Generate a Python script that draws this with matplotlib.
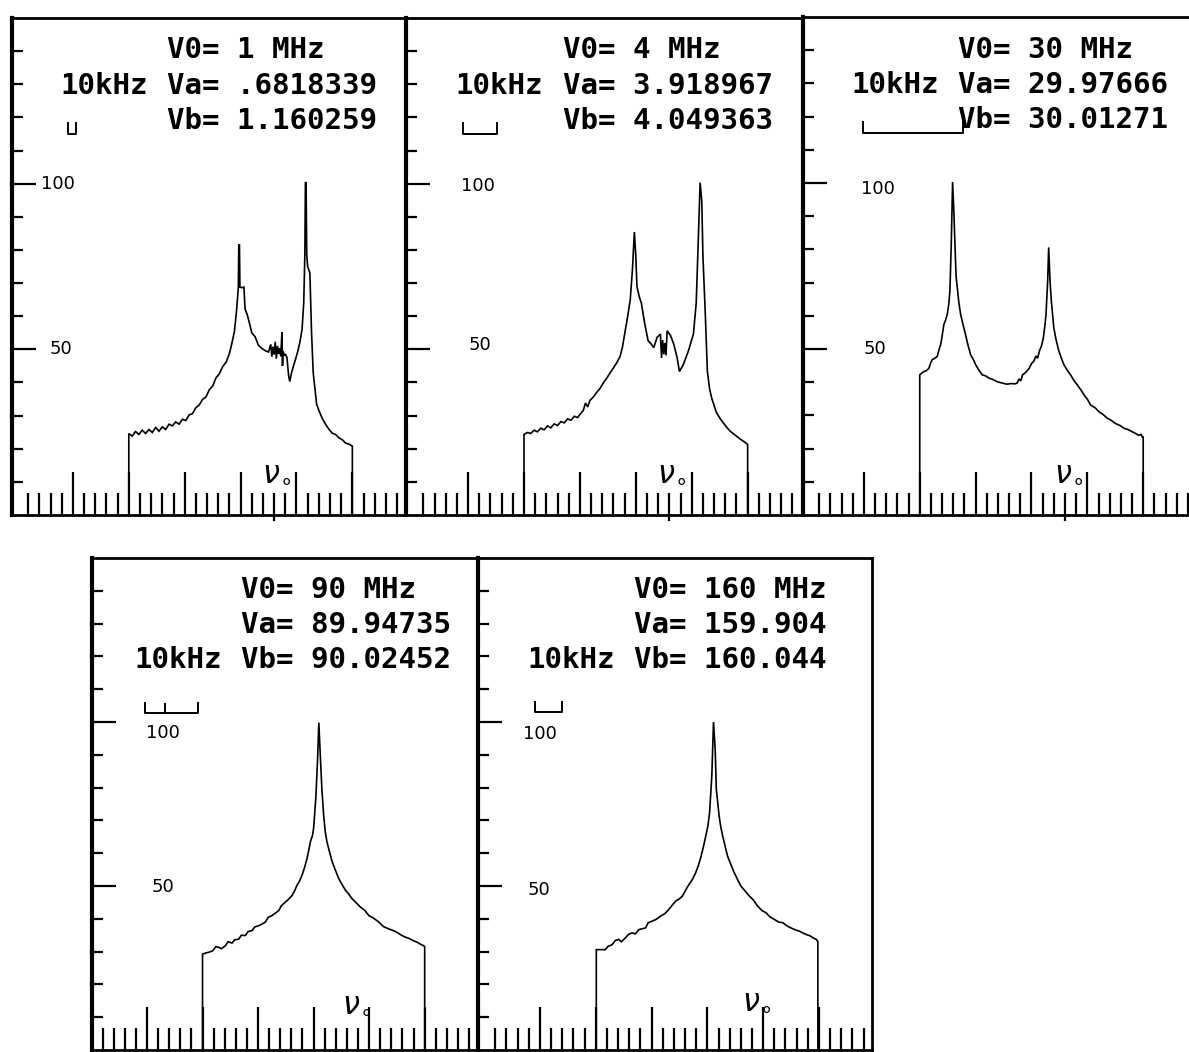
import matplotlib
matplotlib.use("Agg")
import matplotlib.pyplot as plt

# ---------------------------------------------------------------------------
# Spectra: (frequency step index, relative intensity) for each drive frequency
# ---------------------------------------------------------------------------
spec_1mhz = [
    (10.0, 0), (10.0, 24.6), (10.3, 23.8), (10.6, 25.2), (10.9, 24.3), (11.2, 25.6),
    (11.5, 24.6), (11.8, 25.8), (12.1, 24.9), (12.4, 26.4), (12.7, 25.3), (13.0, 26.6),
    (13.3, 25.8), (13.6, 27.4), (13.9, 26.9), (14.2, 28.1), (14.5, 27.4), (14.8, 28.9),
    (15.1, 28.5), (15.4, 30.2), (15.7, 30.6), (16.0, 32.4), (16.3, 33.2), (16.6, 34.9),
    (16.9, 35.6), (17.2, 37.8), (17.5, 38.9), (17.8, 41.4), (18.1, 42.6), (18.4, 44.8),
    (18.7, 46.1), (19.0, 48.7), (19.2, 51.5), (19.45, 55.4), (19.65, 62.0), (19.8, 68.8),
    (19.84, 81.5), (19.9, 81.5), (19.94, 68.8), (20.1, 68.6), (20.3, 68.8), (20.4, 62.2),
    (20.6, 60.4), (20.8, 57.8), (21.0, 55.0), (21.3, 53.8), (21.6, 51.2), (21.9, 50.3),
    (22.2, 49.6), (22.5, 49.2), (22.7, 51.5), (22.8, 47.8), (22.9, 50.8), (23.0, 48.4),
    (23.1, 52.3), (23.2, 47.2), (23.3, 51.0), (23.4, 48.6), (23.5, 50.4), (23.6, 47.9),
    (23.7, 55.2), (23.75, 45.0), (23.8, 49.5), (23.9, 48.1), (24.0, 48.6), (24.15, 47.5),
    (24.3, 42.0), (24.4, 40.3), (24.55, 42.8), (24.7, 44.6), (24.9, 46.8), (25.1, 49.2),
    (25.3, 52.0), (25.5, 56.0), (25.65, 64.0), (25.75, 78.5), (25.8, 100.3), (25.86, 100.3),
    (25.92, 78.5), (26.0, 75.0), (26.2, 73.0), (26.35, 55.0), (26.5, 42.9), (26.8, 33.5),
    (27.0, 31.6), (27.3, 29.2), (27.6, 27.4), (27.9, 25.9), (28.2, 24.7), (28.5, 24.3),
    (28.8, 23.3), (29.1, 22.7), (29.4, 21.7), (29.7, 21.4), (29.95, 20.9), (30.0, 20.8),
    (30.0, 0),
]

spec_4mhz = [
    (10.0, 0), (10.0, 24.3), (10.3, 24.9), (10.6, 24.6), (10.9, 25.6), (11.2, 25.1),
    (11.5, 26.2), (11.8, 25.7), (12.1, 26.9), (12.4, 26.3), (12.7, 27.5), (13.0, 27.0),
    (13.3, 28.2), (13.6, 27.8), (13.9, 29.0), (14.2, 28.6), (14.5, 29.8), (14.8, 29.4),
    (15.1, 30.8), (15.3, 31.5), (15.5, 33.8), (15.7, 32.6), (15.9, 34.6), (16.2, 35.6),
    (16.5, 37.0), (16.8, 38.2), (17.1, 39.9), (17.4, 41.3), (17.7, 42.9), (18.0, 44.4),
    (18.3, 46.0), (18.6, 47.9), (18.8, 50.6), (19.0, 54.6), (19.25, 59.5), (19.5, 64.9),
    (19.7, 74.1), (19.87, 85.4), (20.0, 78.2), (20.1, 69.0), (20.3, 66.0), (20.5, 63.9),
    (20.8, 57.7), (21.1, 52.6), (21.4, 51.5), (21.6, 50.5), (21.9, 53.6), (22.2, 54.6),
    (22.3, 47.4), (22.4, 52.8), (22.5, 48.5), (22.6, 51.9), (22.7, 48.2), (22.8, 55.6),
    (23.1, 54.2), (23.4, 51.5), (23.7, 47.4), (23.9, 43.3), (24.25, 45.4), (24.7, 49.5),
    (25.15, 54.6), (25.4, 63.9), (25.6, 84.4), (25.75, 100.3), (25.9, 94.7), (26.0, 78.2),
    (26.2, 61.8), (26.4, 43.3), (26.6, 38.0), (26.8, 35.1), (27.2, 31.0), (27.5, 29.3),
    (27.8, 27.9), (28.1, 26.6), (28.4, 25.4), (28.7, 24.6), (29.0, 23.8), (29.3, 23.0),
    (29.6, 22.3), (29.9, 21.6), (30.0, 21.3), (30.0, 0),
]

spec_30mhz = [
    (10.0, 0), (10.0, 42.2), (10.2, 42.8), (10.37, 43.2), (10.6, 43.5), (10.82, 44.2),
    (11.0, 46.0), (11.12, 46.8), (11.35, 47.2), (11.57, 47.8), (11.7, 49.5), (11.87, 51.3),
    (12.0, 53.8), (12.16, 57.4), (12.3, 58.6), (12.46, 60.4), (12.6, 63.5), (12.7, 67.5),
    (12.82, 81.6), (12.94, 100.3), (13.06, 90.7), (13.15, 81.6), (13.25, 72.0), (13.36, 68.5),
    (13.5, 64.0), (13.66, 60.4), (13.9, 57.0), (14.1, 54.3), (14.3, 51.4), (14.55, 48.3),
    (14.8, 46.8), (15.0, 45.3), (15.3, 43.6), (15.6, 42.2), (15.9, 41.9), (16.2, 41.2),
    (16.5, 40.9), (16.9, 40.2), (17.3, 39.8), (17.8, 39.4), (18.2, 39.6), (18.5, 39.5),
    (18.7, 39.7), (18.9, 41.0), (19.05, 40.4), (19.2, 42.2), (19.5, 43.0), (19.8, 44.2),
    (20.0, 45.6), (20.2, 46.3), (20.4, 47.9), (20.55, 47.2), (20.7, 49.3), (20.9, 51.0),
    (21.06, 53.3), (21.2, 57.0), (21.3, 60.4), (21.45, 70.5), (21.54, 80.6), (21.66, 70.5),
    (21.78, 64.4), (22.0, 56.4), (22.2, 52.8), (22.46, 49.3), (22.7, 47.0), (22.9, 45.3),
    (23.2, 43.6), (23.5, 42.2), (23.8, 40.5), (24.1, 39.2), (24.4, 37.8), (24.7, 36.2),
    (25.0, 34.9), (25.3, 33.1), (25.7, 32.3), (26.04, 31.1), (26.4, 30.3), (26.8, 29.1),
    (27.1, 28.6), (27.5, 27.6), (27.9, 27.0), (28.3, 26.1), (28.6, 25.8), (29.0, 25.1),
    (29.3, 24.6), (29.6, 24.0), (29.8, 24.3), (29.93, 23.5), (30.0, 23.5), (30.0, 0),
]

spec_90mhz = [
    (10.0, 0), (10.0, 29.2), (10.3, 29.6), (10.56, 29.8), (10.9, 30.2), (11.2, 31.5),
    (11.46, 31.3), (11.7, 30.9), (12.06, 31.8), (12.3, 33.0), (12.66, 32.6), (12.9, 33.6),
    (13.26, 33.8), (13.5, 35.0), (13.86, 34.9), (14.1, 36.1), (14.46, 36.4), (14.7, 37.5),
    (15.06, 37.9), (15.3, 38.3), (15.66, 39.0), (15.9, 40.4), (16.26, 41.0), (16.5, 41.6),
    (16.86, 42.5), (17.1, 44.0), (17.46, 45.1), (17.7, 45.8), (18.06, 47.1), (18.3, 48.6),
    (18.5, 50.2), (18.75, 51.6), (18.96, 53.3), (19.2, 55.8), (19.41, 58.4), (19.6, 61.5),
    (19.71, 63.5), (19.9, 65.4), (20.0, 67.6), (20.2, 76.8), (20.35, 88.0), (20.47, 99.8),
    (20.6, 90.0), (20.74, 79.9), (20.9, 71.7), (21.05, 66.5), (21.2, 63.5), (21.4, 60.8),
    (21.67, 57.4), (21.95, 54.9), (22.27, 52.2), (22.55, 50.5), (22.87, 48.7), (23.15, 47.6),
    (23.47, 46.1), (23.8, 45.0), (24.2, 43.6), (24.6, 42.6), (24.97, 41.0), (25.4, 40.2),
    (25.87, 39.0), (26.3, 37.6), (26.77, 36.9), (27.1, 36.5), (27.5, 35.9), (27.9, 35.0),
    (28.27, 34.4), (28.6, 34.0), (29.0, 33.3), (29.3, 32.9), (29.6, 32.3), (29.9, 31.8),
    (30.0, 31.5), (30.0, 0),
]

spec_160mhz = [
    (10.05, 0), (10.05, 30.6), (10.86, 30.6), (11.1, 31.6), (11.46, 32.1), (11.75, 33.4),
    (12.06, 33.7), (12.3, 33.0), (12.66, 34.2), (12.95, 35.3), (13.26, 35.7), (13.55, 35.4),
    (13.86, 36.7), (14.2, 37.0), (14.46, 37.2), (14.7, 38.8), (15.06, 39.3), (15.4, 39.8),
    (15.8, 40.8), (16.2, 41.6), (16.56, 42.9), (16.86, 44.2), (17.16, 45.4), (17.46, 46.0),
    (17.76, 46.9), (18.06, 48.8), (18.36, 50.5), (18.66, 52.0), (18.96, 54.1), (19.2, 56.3),
    (19.41, 58.7), (19.65, 62.0), (19.86, 65.3), (20.05, 68.4), (20.2, 72.4), (20.4, 83.7),
    (20.55, 100.0), (20.7, 91.8), (20.8, 79.6), (21.05, 71.4), (21.2, 68.0), (21.37, 65.3),
    (21.6, 62.0), (21.8, 59.2), (22.1, 56.6), (22.4, 54.1), (22.7, 52.0), (23.0, 50.0),
    (23.4, 48.4), (23.77, 46.9), (24.1, 45.8), (24.5, 43.9), (24.9, 42.5), (25.27, 41.8),
    (25.6, 40.6), (26.0, 39.8), (26.4, 39.0), (26.77, 38.8), (27.1, 37.9), (27.5, 37.2),
    (27.9, 36.6), (28.27, 36.2), (28.6, 35.6), (28.87, 35.2), (29.2, 34.8), (29.47, 34.2),
    (29.77, 33.7), (29.9, 33.0), (29.9, 0),
]

# Header readouts: centre frequency and fitted peak positions
v0_labels = ["V0= 1 MHz", "V0= 4 MHz", "V0= 30 MHz", "V0= 90 MHz", "V0= 160 MHz"]
va_labels = ["Va= .6818339", "Va= 3.918967", "Va= 29.97666", "Va= 89.94735", "Va= 159.904"]
vb_labels = ["Vb= 1.160259", "Vb= 4.049363", "Vb= 30.01271", "Vb= 90.02452", "Vb= 160.044"]
scale_text = "10kHz"
scale_line = [1, 1, 1, 2, 2]            # header line that carries the 10 kHz tag

# 10 kHz scale bar in step units: start, end, inner ticks
scale_bar_start = [4.55, 4.55, 4.9, 4.8, 4.6]
scale_bar_end = [5.3, 7.55, 13.9, 9.6, 7.0]
scale_bar_inner = [[], [], [], [6.6], []]
scale_bar_base = [115.0, 115.0, 115.2, 102.7, 103.0]

y_minor_ticks = [10, 20, 30, 40, 60, 70, 80, 90, 110, 120, 130, 140]
y_major_ticks = [50, 100]
y_label_values = [100, 50]
x_major_ticks = [5, 10, 15, 20, 25, 30]
x_minor_ticks = [k for k in range(1, 35) if k % 5]

# Where the "100"/"50" annotations sit (x in step units, y in intensity)
y100_label_pos = [(2.1, 100.0), (4.4, 99.2), (4.7, 98.3), (4.95, 96.6), (3.5, 96.3)]
y50_label_pos = [(2.9, 50.0), (5.0, 51.4), (5.0, 50.0), (5.4, 49.7), (3.9, 48.8)]
nu0_label_pos = [(23.2, 12.9), (23.2, 12.9), (23.3, 12.9), (23.9, 14.3), (24.4, 15.0)]
nu0_tick = [23, 23, 23, None, None]

spectra = [spec_1mhz, spec_4mhz, spec_30mhz, spec_90mhz, spec_160mhz]

# ---------------------------------------------------------------------------
# Layout: frame boxes in pixels (left, right, top, bottom) and x-limits
# ---------------------------------------------------------------------------
W, H = 1189, 1052
frames = [
    (12, 406, 18, 515, -0.45, 34.8),
    (406, 803, 18, 515, -0.55, 34.95),
    (803, 1189, 17, 515, -0.45, 34.1),
    (92, 478, 558, 1050, 0.05, 34.8),
    (478, 872, 558, 1050, -0.55, 34.75),
]
right_spine = [True, True, False, True, True]

fig = plt.figure(figsize=(W / 100, H / 100), dpi=100)
fig.patch.set_facecolor("white")

mono = dict(family=["DejaVu Sans Mono"], weight="bold", fontsize=21, color="black")
head_y = [137.8, 127.2, 116.6]
col_v = 13.45
col_tag = 3.9

for i, spec in enumerate(spectra):
    l, r, t, b, x0, x1 = frames[i]
    ax = fig.add_axes([l / W, 1 - b / H, (r - l) / W, (b - t) / H])
    ax.patch.set_visible(False)
    ax.set_xlim(x0, x1)
    ax.set_ylim(0, 150)

    for side in ("left", "top", "bottom", "right"):
        ax.spines[side].set_color("black")
    ax.spines["left"].set_linewidth(3.0)
    ax.spines["top"].set_linewidth(2.0)
    ax.spines["bottom"].set_linewidth(2.0)
    ax.spines["right"].set_linewidth(2.0)
    ax.spines["right"].set_visible(right_spine[i])

    # comb-like frequency axis
    ax.set_xticks(x_major_ticks)
    ax.set_xticks(x_minor_ticks, minor=True)
    ax.tick_params(axis="x", which="major", direction="in", length=31, width=1.6,
                   labelbottom=False, bottom=True, top=False)
    ax.tick_params(axis="x", which="minor", direction="in", length=16, width=1.6,
                   bottom=True, top=False)
    # intensity ticks pointing inwards from the left edge
    ax.set_yticks(y_major_ticks)
    ax.set_yticks(y_minor_ticks, minor=True)
    ax.tick_params(axis="y", which="major", direction="in", length=17, width=1.6,
                   labelleft=False, left=True, right=False)
    ax.tick_params(axis="y", which="minor", direction="in", length=8, width=1.6,
                   left=True, right=False)

    xs, ys = zip(*spec)
    ax.plot(xs, ys, color="black", linewidth=1.2, solid_joinstyle="miter")

    # header readouts
    ax.text(col_v, head_y[0], v0_labels[i], ha="left", va="baseline", **mono)
    ax.text(col_v, head_y[1], va_labels[i], ha="left", va="baseline", **mono)
    ax.text(col_v, head_y[2], vb_labels[i], ha="left", va="baseline", **mono)
    ax.text(col_tag, head_y[scale_line[i]], scale_text, ha="left", va="baseline", **mono)

    # 10 kHz scale bar
    sb0, sb1, base = scale_bar_start[i], scale_bar_end[i], scale_bar_base[i]
    ax.plot([sb0, sb0, sb1, sb1], [base + 3.2, base, base, base + 3.2],
            color="black", linewidth=1.4)
    for xm in scale_bar_inner[i]:
        ax.plot([xm, xm], [base, base + 2.8], color="black", linewidth=1.4)

    # intensity annotations
    for (lx, ly), val in zip([y100_label_pos[i], y50_label_pos[i]], y_label_values):
        ax.text(lx, ly, str(val), ha="left", va="center", fontsize=13,
                family=["DejaVu Sans"], color="black")

    # nu0 marker
    nx, ny = nu0_label_pos[i]
    ax.text(nx, ny, r"$\nu_{\circ}$", ha="center", va="center", fontsize=22, color="black")
    if nu0_tick[i] is not None:
        ax.plot([nu0_tick[i], nu0_tick[i]], [0, -1.6], color="black", linewidth=1.6,
                clip_on=False)

fig.savefig("out.png", dpi=100, facecolor="white")
